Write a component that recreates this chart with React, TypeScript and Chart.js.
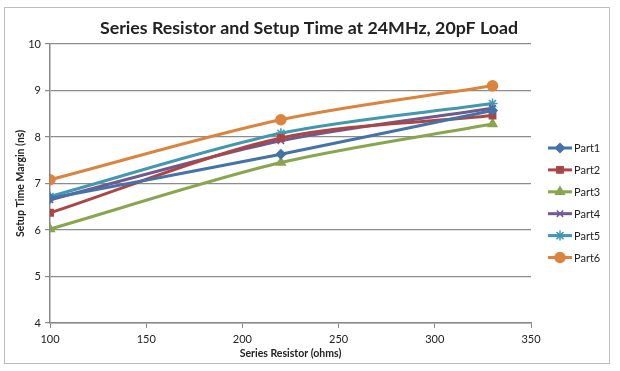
import React, { useEffect, useRef } from "react";
import { Chart, registerables } from "chart.js";
import { drawPoint } from "chart.js/helpers";

Chart.register(...registerables);

const resistors = [100, 220, 330];
const seriesNames = ["Part1", "Part2", "Part3", "Part4", "Part5", "Part6"];
const part1 = [6.68, 7.63, 8.57];
const part2 = [6.37, 7.98, 8.46];
const part3 = [6.02, 7.45, 8.28];
const part4 = [6.65, 7.92, 8.62];
const part5 = [6.72, 8.08, 8.72];
const part6 = [7.08, 8.37, 9.1];
const seriesValues = [part1, part2, part3, part4, part5, part6];
const colors = ["#4572A7", "#AA4643", "#89A54E", "#71588F", "#4198AF", "#DB843D"];
const markers = ["rectRot", "rect", "triangle", "crossRot", "star", "circle"];
const markerRadius = [4.5, 4.5, 5, 4.5, 5, 5];

const titleText = "Series Resistor and Setup Time at 24MHz, 20pF Load";
const xTitle = "Series Resistor (ohms)";
const yTitle = "Setup Time Margin (ns)";
const FONT = "Lato, 'Open Sans', sans-serif";

const titlePlugin = {
  id: "centeredTitle",
  afterDraw(chart: any) {
    const ctx = chart.ctx;
    ctx.save();
    ctx.fillStyle = "#222";
    ctx.font = `bold 17.8px ${FONT}`;
    ctx.textAlign = "center";
    ctx.textBaseline = "middle";
    ctx.fillText(titleText, 309, 28);
    ctx.restore();
  },
};

const legendPlugin = {
  id: "sideLegend",
  afterDraw(chart: any) {
    const ctx = chart.ctx;
    const x0 = 548;
    const y0 = 148;
    const gap = 21.9;
    ctx.save();
    chart.data.datasets.forEach((ds: any, i: number) => {
      const y = y0 + i * gap;
      ctx.strokeStyle = ds.borderColor;
      ctx.lineWidth = 3;
      ctx.beginPath();
      ctx.moveTo(x0, y);
      ctx.lineTo(x0 + 24, y);
      ctx.stroke();
      ctx.fillStyle = ds.borderColor;
      ctx.strokeStyle = ds.borderColor;
      ctx.lineWidth = 1.5;
      drawPoint(ctx, { pointStyle: ds.pointStyle, radius: ds.pointRadius, rotation: 0, borderWidth: 1.5 }, x0 + 12, y);
      ctx.fillStyle = "#222";
      ctx.font = `11px ${FONT}`;
      ctx.textBaseline = "middle";
      ctx.textAlign = "left";
      ctx.fillText(ds.label, x0 + 26, y + 0.5);
    });
    ctx.restore();
  },
};

export default function App() {
  const ref = useRef<HTMLCanvasElement>(null);
  useEffect(() => {
    if (!ref.current) return;
    const chart = new Chart(ref.current, {
      type: "line",
      data: {
        datasets: seriesNames.map((name, i) => ({
          label: name,
          data: resistors.map((r, j) => ({ x: r, y: seriesValues[i][j] })),
          borderColor: colors[i],
          backgroundColor: colors[i],
          pointBackgroundColor: colors[i],
          pointBorderColor: colors[i],
          pointStyle: markers[i],
          pointRadius: markerRadius[i],
          pointBorderWidth: 1.5,
          borderWidth: 3,
          tension: 0.3,
          fill: false,
        })),
      },
      options: {
        responsive: false,
        animation: false,
        layout: { padding: { left: 4, right: 89, top: 44, bottom: 0 } },
        plugins: {
          legend: { display: false },
          tooltip: { enabled: false },
          title: { display: false },
        },
        scales: {
          x: {
            type: "linear",
            min: 100,
            max: 350,
            ticks: { stepSize: 50, color: "#222", font: { family: FONT, size: 11 }, padding: 5 },
            grid: { drawOnChartArea: false, drawTicks: true, tickLength: 5, color: "#888" },
            border: { color: "#888", width: 1.5 },
            title: { display: true, text: xTitle, color: "#222", font: { family: FONT, size: 10.5, weight: "bold", lineHeight: 1.2 }, padding: { top: 0, bottom: 11 } },
            afterFit(scale: any) {
              scale.height = 48;
            },
          },
          y: {
            min: 4,
            max: 10,
            ticks: { stepSize: 1, color: "#222", font: { family: FONT, size: 11 }, padding: 4 },
            grid: { color: "#8c8c8c", tickLength: 5, lineWidth: 1.2 },
            border: { color: "#888", width: 1.5 },
            title: { display: true, text: yTitle, color: "#222", font: { family: FONT, size: 10.5, weight: "bold", lineHeight: 1.2 }, padding: { top: 10, bottom: 0 } },
            afterFit(scale: any) {
              scale.width = 46;
            },
          },
        },
      },
      plugins: [titlePlugin, legendPlugin],
    });
    return () => chart.destroy();
  }, []);
  return (
    <div style={{ position: "absolute", left: 0, top: 0, width: 620, height: 371, background: "#fff" }}>
      <div style={{ position: "absolute", left: 4, top: 7, width: 606, height: 357, border: "1px solid #bdbdbd", boxSizing: "border-box" }} />
      <canvas ref={ref} width={620} height={371} style={{ position: "absolute", left: 0, top: 0 }} />
    </div>
  );
}
